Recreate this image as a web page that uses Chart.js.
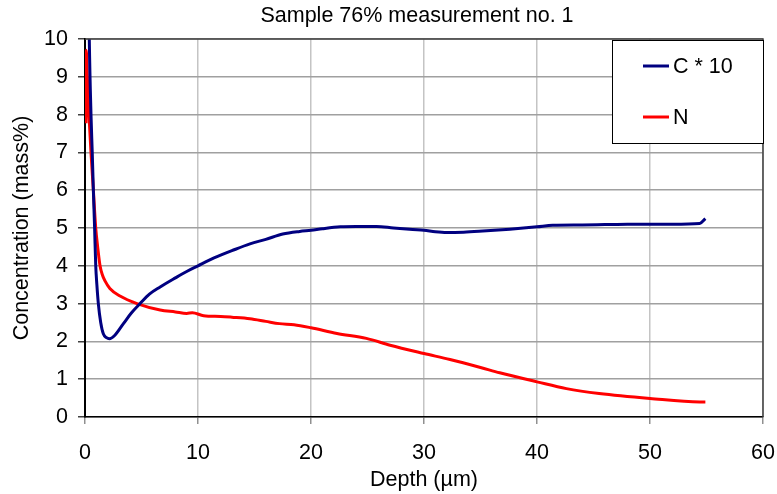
<!DOCTYPE html>
<html>
<head>
<meta charset="utf-8">
<script src="https://cdn.jsdelivr.net/npm/chart.js@4.4.1/dist/chart.umd.min.js"></script>
<style>
  html, body { margin: 0; padding: 0; background: #fff; }
  #profile { display: block; }
</style>
</head>
<body>
<canvas id="profile" width="777" height="494"></canvas>
<script>
const chartTitle = 'Sample 76% measurement no. 1';
const xTitle = 'Depth (µm)';
const yTitle = 'Concentration (mass%)';
const xTicks = [0, 10, 20, 30, 40, 50, 60];
const yTicks = [0, 1, 2, 3, 4, 5, 6, 7, 8, 9, 10];

// carbon (scaled x10)
const depthC = [0.30, 0.38, 0.53, 0.64, 0.74, 0.85, 0.95, 1.05, 1.18, 1.39, 1.62, 1.9, 2.16, 2.6, 3.4, 4.1, 4.87, 5.7, 6.65, 8, 9, 10, 11, 12, 13, 14.6, 16, 17.5, 19, 20, 21, 22.6, 24, 25.8, 27.3, 29, 30, 31, 32, 33.5, 35.2, 37.6, 40, 41.4, 44, 46, 48, 50, 52, 54.4, 54.9];
const concC = [12, 10, 8, 7, 6, 5, 4, 3.5, 3.0, 2.5, 2.2, 2.1, 2.07, 2.15, 2.47, 2.75, 3.0, 3.25, 3.44, 3.68, 3.85, 4.0, 4.15, 4.28, 4.4, 4.58, 4.7, 4.84, 4.91, 4.94, 4.98, 5.03, 5.04, 5.04, 5.0, 4.96, 4.94, 4.9, 4.88, 4.89, 4.92, 4.97, 5.03, 5.07, 5.08, 5.09, 5.1, 5.1, 5.1, 5.12, 5.25];

// nitrogen
const depthN = [0.09, 0.11, 0.22, 0.35, 0.53, 0.74, 0.95, 1.12, 1.33, 1.55, 1.77, 2.2, 3.1, 4.6, 6.65, 8, 9, 9.5, 10.5, 12, 13, 14.6, 16, 17.2, 18.5, 20, 22.3, 24.9, 27, 30, 32.3, 35, 36.7, 40, 42.6, 45.5, 50, 54.4, 54.9];
const concN = [7.77, 9.7, 8.9, 8, 7, 6, 5, 4.5, 4, 3.75, 3.6, 3.4, 3.2, 3.0, 2.83, 2.78, 2.74, 2.76, 2.68, 2.66, 2.64, 2.6, 2.53, 2.47, 2.44, 2.36, 2.21, 2.08, 1.9, 1.68, 1.52, 1.31, 1.17, 0.93, 0.75, 0.62, 0.49, 0.40, 0.40];

const seriesNames = ['C * 10', 'N'];
const seriesColors = ['#000080', '#ff0000'];

const fontFamily = '"Liberation Sans", Arial, sans-serif';
const fontSize = 21.5;

function toPoints(xs, ys) {
  return xs.map((x, i) => ({ x: x, y: ys[i] }));
}

// title, plot frame and the boxed legend are painted by hand
const excelBits = {
  id: 'excelBits',
  afterDraw(chart) {
    const c = chart.ctx;
    const a = chart.chartArea;
    c.save();
    c.strokeStyle = '#404040';
    c.lineWidth = 1.5;
    c.beginPath();
    c.moveTo(a.left, a.top);
    c.lineTo(a.right, a.top);
    c.lineTo(a.right, a.bottom);
    c.stroke();

    c.fillStyle = '#000';
    c.font = fontSize + 'px ' + fontFamily;
    c.textAlign = 'center';
    c.textBaseline = 'alphabetic';
    c.fillText(chartTitle, 417, 22);

    // legend box
    const bx = 612, by = 40, bw = 151, bh = 103;
    c.fillStyle = '#fff';
    c.fillRect(bx, by, bw, bh);
    c.strokeStyle = '#000';
    c.lineWidth = 1;
    c.strokeRect(bx + 0.5, by + 0.5, bw, bh);
    const rowY = [66, 117];
    chart.data.datasets.forEach((ds, i) => {
      c.strokeStyle = ds.borderColor;
      c.lineWidth = 3;
      c.beginPath();
      c.moveTo(643, rowY[i]);
      c.lineTo(669, rowY[i]);
      c.stroke();
      c.fillStyle = '#000';
      c.textAlign = 'left';
      c.textBaseline = 'middle';
      c.fillText(ds.label, 673, rowY[i] + 1);
    });
    c.restore();
  }
};

const profile = new Chart(document.getElementById('profile'), {
  type: 'line',
  data: {
    datasets: [
      {
        label: seriesNames[0],
        data: toPoints(depthC, concC),
        borderColor: seriesColors[0],
        borderWidth: 3,
        pointRadius: 0,
        cubicInterpolationMode: 'monotone',
        fill: false
      },
      {
        label: seriesNames[1],
        data: toPoints(depthN, concN),
        borderColor: seriesColors[1],
        borderWidth: 3,
        pointRadius: 0,
        cubicInterpolationMode: 'monotone',
        fill: false
      }
    ]
  },
  options: {
    responsive: false,
    animation: false,
    devicePixelRatio: 1,
    layout: { padding: { top: 39, right: 14, left: 0, bottom: 0 } },
    plugins: {
      legend: { display: false },
      title: { display: false },
      tooltip: { enabled: false }
    },
    scales: {
      x: {
        type: 'linear',
        min: 0,
        max: 60,
        afterFit: (scale) => {
          scale.height = 77;
          scale.paddingLeft = 0;
          scale.paddingRight = 0;
        },
        afterBuildTicks: (scale) => { scale.ticks = xTicks.map(v => ({ value: v })); },
        grid: { color: '#c4c4c4', lineWidth: 1.5, tickLength: 7, tickColor: '#909090' },
        border: { color: '#000', width: 1.5 },
        ticks: {
          color: '#000',
          padding: 16,
          maxRotation: 0,
          font: { family: fontFamily, size: fontSize }
        },
        title: {
          display: true,
          text: xTitle,
          color: '#000',
          padding: { top: 0, bottom: 1 },
          font: { family: fontFamily, size: fontSize }
        }
      },
      y: {
        type: 'linear',
        min: 0,
        max: 10,
        afterFit: (scale) => {
          scale.width = 85;
          scale.paddingTop = 0;
          scale.paddingBottom = 0;
        },
        afterBuildTicks: (scale) => { scale.ticks = yTicks.map(v => ({ value: v })); },
        grid: { color: '#a0a0a0', lineWidth: 1.5, tickLength: 7, tickColor: '#404040' },
        border: { color: '#000', width: 2 },
        ticks: {
          color: '#000',
          padding: 10,
          font: { family: fontFamily, size: fontSize }
        },
        title: {
          display: true,
          text: yTitle,
          color: '#000',
          padding: { top: 9, bottom: 0 },
          font: { family: fontFamily, size: fontSize }
        }
      }
    }
  },
  plugins: [excelBits]
});
</script>
</body>
</html>
